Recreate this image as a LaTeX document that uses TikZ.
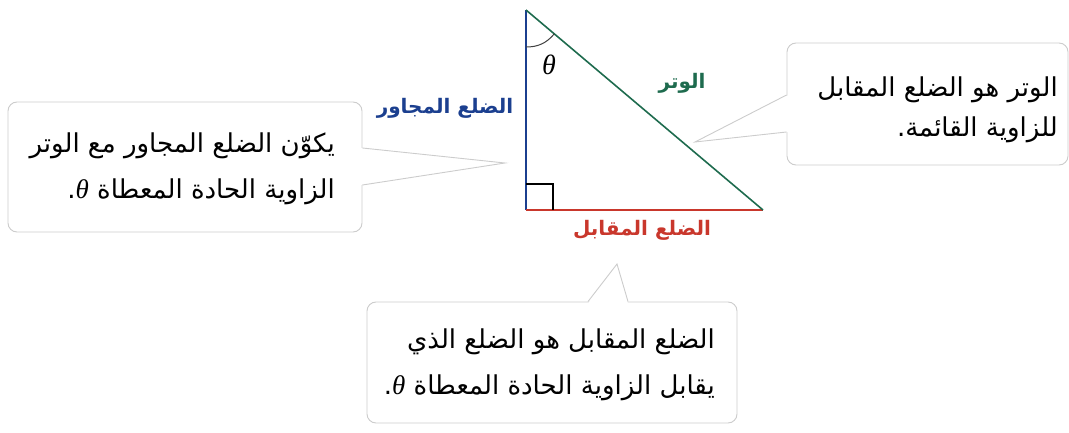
\documentclass[tikz,border=0pt]{standalone}
\usepackage{fontspec}
\newfontfamily\arabicfont[Script=Arabic]{DejaVu Sans}
\newfontfamily\greekfont{Liberation Serif}
\TeXXeTstate=1
\usetikzlibrary{calc}

\definecolor{adjcolor}{HTML}{1B3F8F}
\definecolor{hypcolor}{HTML}{1E6B4E}
\definecolor{oppcolor}{HTML}{C9372C}
\definecolor{boxcolor}{HTML}{CCCCCC}

\newcommand{\angsym}{{\greekfont\itshape\fontsize{27}{30}\selectfont θ}}

\begin{document}
\begin{tikzpicture}[x=1pt, y=-1pt,
    box/.style={draw=boxcolor, line width=0.9pt, rounded corners=9pt, fill=white, inner sep=0pt},
    tip/.style={draw=boxcolor, line width=0.9pt},
    txt/.style={font=\arabicfont\fontsize{26}{46}\selectfont, align=right, anchor=east, inner sep=0pt},
    side/.style={font=\arabicfont\bfseries\fontsize{20}{24}\selectfont, inner sep=0pt},
]
\useasboundingbox (0,0) rectangle (1069,433);

% Triangle
\coordinate (top) at (526,10);
\coordinate (corner) at (526,210);
\coordinate (far) at (763,210);
\draw[adjcolor, line width=1.6pt] (top) -- (corner);
\draw[oppcolor, line width=1.6pt] (corner) -- (far);
\draw[hypcolor, line width=1.6pt] (far) -- (top);

% Right angle and theta
\draw[black, line width=1.2pt] ($(corner)+(0,-26)$) -- ++(27,0) -- ++(0,26);
\coordinate (arcA) at ($(top)+(0,37)$);
\coordinate (arcB) at ($(top)!37pt!(far)$);
\draw[black!75, line width=1pt] (arcA) to[bend right=25] (arcB);
\node[font=\greekfont\itshape\fontsize{28}{30}\selectfont, inner sep=0pt] (thetaLbl) at (549,65) {θ};

% Side labels
\node[side, text=hypcolor] (hypLbl) at (682,83) {\beginR الوتر\endR};
\node[side, text=adjcolor] (adjLbl) at (445,108) {\beginR الضلع المجاور\endR};
\node[side, text=oppcolor] (oppLbl) at (642,230) {\beginR الضلع المقابل\endR};

% Left callout
\node[box, minimum width=354, minimum height=130] (adjBox) at (185,167) {};
\coordinate (adjTip) at (505,163);
\fill[white] ($(adjBox.east)+(-2,-19)$) -- (adjTip) -- ($(adjBox.east)+(-2,18)$) -- cycle;
\draw[tip] ($(adjBox.east)+(0,-19)$) -- (adjTip) -- ($(adjBox.east)+(0,18)$);
\node[txt] (adjTxt) at (335,169) {\beginR يكوّن الضلع المجاور مع الوتر\endR\\
    \beginR الزاوية الحادة المعطاة \angsym.\endR};

% Right callout
\node[box, minimum width=281, minimum height=122] (hypBox) at (927.5,104) {};
\coordinate (hypTip) at (695,142);
\fill[white] ($(hypBox.west)+(2,-9)$) -- (hypTip) -- ($(hypBox.west)+(2,28)$) -- cycle;
\draw[tip] ($(hypBox.west)+(0,-9)$) -- (hypTip) -- ($(hypBox.west)+(0,28)$);
\node[txt, font=\arabicfont\fontsize{26}{40}\selectfont] (hypTxt) at (1058,110) {\beginR الوتر هو الضلع المقابل\endR\\
    \beginR للزاوية القائمة.\endR};

% Bottom callout
\node[box, minimum width=370, minimum height=121] (oppBox) at (552,362.5) {};
\coordinate (oppTip) at (617,264);
\fill[white] ($(oppBox.north)+(36,2)$) -- (oppTip) -- ($(oppBox.north)+(76,2)$) -- cycle;
\draw[tip] ($(oppBox.north)+(36,0)$) -- (oppTip) -- ($(oppBox.north)+(76,0)$);
\node[txt] (oppTxt) at (715,365) {\beginR الضلع المقابل هو الضلع الذي\endR\\
    \beginR يقابل الزاوية الحادة المعطاة \angsym.\endR};

\end{tikzpicture}
\end{document}
